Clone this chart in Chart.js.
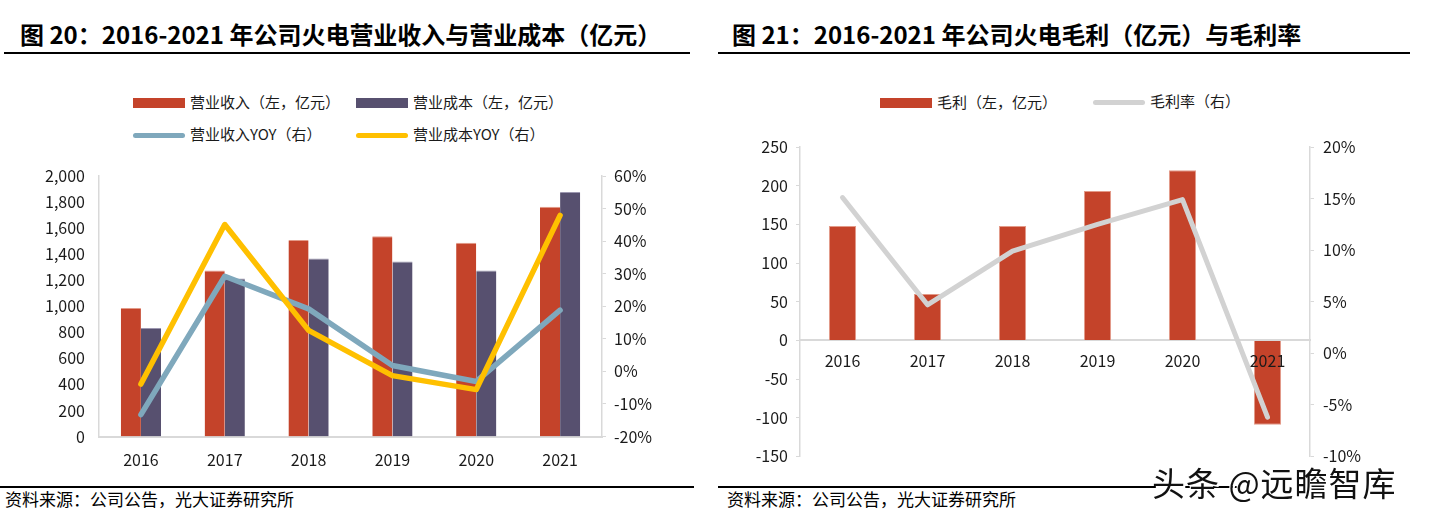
<!DOCTYPE html>
<html>
<head>
<meta charset="utf-8">
<script src="https://cdn.jsdelivr.net/npm/chart.js@4.4.0/dist/chart.umd.min.js"></script>
<style>
  html, body { margin:0; padding:0; background:#fff; }
  body { width:1432px; height:518px; position:relative; overflow:hidden; font-family:"Noto Sans CJK SC", sans-serif; }
  .title { position:absolute; font-size:24px; font-weight:700; color:#000; white-space:nowrap; line-height:1; }
  .rule { position:absolute; height:2px; background:#000; }
  .src { position:absolute; font-size:17px; color:#000; white-space:nowrap; line-height:1; }
  .lg { position:absolute; font-size:15px; color:#1a1a1a; white-space:nowrap; line-height:1; }
  .sw { position:absolute; }
  canvas { position:absolute; }
  .wm { position:absolute; font-size:33px; color:#111; white-space:nowrap; line-height:1; text-shadow:2px 2px 0 #fff, -1px -1px 0 #fff; letter-spacing:1px; }
</style>
</head>
<body>
<div class="title" style="left:20px; top:22px;">图 20：2016-2021 年公司火电营业收入与营业成本（亿元）</div>
<div class="rule" style="left:4px; top:52px; width:686px;"></div>
<div class="title" style="left:732px; top:22px;">图 21：2016-2021 年公司火电毛利（亿元）与毛利率</div>
<div class="rule" style="left:718px; top:52px; width:692px;"></div>

<div id="legend1"></div>
<div id="legend2"></div>

<canvas id="c1" width="700" height="330" style="left:0px; top:150px; width:700px; height:330px;"></canvas>
<canvas id="c2" width="722" height="355" style="left:710px; top:120px; width:722px; height:355px;"></canvas>

<div class="rule" style="left:0px; top:486px; width:694px;"></div>
<div class="src" style="left:5px; top:490px;">资料来源：公司公告，光大证券研究所</div>
<div class="rule" style="left:718px; top:486px; width:520px;"></div>
<div class="src" style="left:727px; top:490px;">资料来源：公司公告，光大证券研究所</div>
<div class="wm" style="left:1152px; top:466px;">头条 @远瞻智库</div>

<script>
// ---------- Data ----------
const years = ['2016', '2017', '2018', '2019', '2020', '2021'];

// Chart 1 (亿元 / %)
const revenue = [987, 1274, 1508, 1538, 1487, 1764];
const cost = [833, 1213, 1367, 1344, 1274, 1877];
const revenueYoy = [-13.3, 29.2, 19.2, 1.8, -3.1, 18.8];
const costYoy = [-3.9, 45.1, 12.6, -1.3, -5.6, 47.9];
const chart1Labels = ['营业收入（左，亿元）', '营业成本（左，亿元）', '营业收入YOY（右）', '营业成本YOY（右）'];

// Chart 2 (亿元 / %)
const grossProfit = [148, 60, 148, 193, 220, -109];
const grossMargin = [15.1, 4.7, 9.9, 12.5, 14.9, -6.2];
const chart2Labels = ['毛利（左，亿元）', '毛利率（右）'];

// ---------- Styles ----------
const RED = '#C4432A', PURPLE = '#57506F', BLUE = '#7FA8BC', YELLOW = '#FFC000', GRAY = '#D2D2D2';
const AXIS = '#D9D9D9', TICK = '#1a1a1a';
const tickFont = { family: '"Noto Sans CJK SC", sans-serif', size: 16 };

// ---------- HTML legends ----------
function addLegend(containerId, items) {
  const c = document.getElementById(containerId);
  items.forEach(it => {
    const sw = document.createElement('div');
    sw.className = 'sw';
    sw.style.left = it.x + 'px';
    sw.style.width = '52px';
    sw.style.background = it.color;
    if (it.type === 'box') { sw.style.top = (it.y - 5) + 'px'; sw.style.height = '10px'; }
    else { sw.style.top = (it.y - 2.5) + 'px'; sw.style.height = '5px'; sw.style.borderRadius = '3px'; }
    c.appendChild(sw);
    const t = document.createElement('div');
    t.className = 'lg';
    t.textContent = it.label;
    t.style.left = (it.x + 57) + 'px';
    t.style.top = (it.y - 9) + 'px';
    c.appendChild(t);
  });
}
addLegend('legend1', [
  { label: chart1Labels[0], color: RED, type: 'box', x: 133, y: 103 },
  { label: chart1Labels[1], color: PURPLE, type: 'box', x: 356, y: 103 },
  { label: chart1Labels[2], color: BLUE, type: 'line', x: 133, y: 135 },
  { label: chart1Labels[3], color: YELLOW, type: 'line', x: 356, y: 135 }
]);
addLegend('legend2', [
  { label: chart2Labels[0], color: RED, type: 'box', x: 880, y: 103 },
  { label: chart2Labels[1], color: GRAY, type: 'line', x: 1093, y: 102 }
]);

function fixWidth(w) { return function(scale) { scale.width = w; }; }
function fixHeight(h) { return function(scale) { scale.height = h; }; }

// ---------- Chart 1 ----------
new Chart(document.getElementById('c1'), {
  data: {
    labels: years,
    datasets: [
      { type: 'bar', label: chart1Labels[0], data: revenue, backgroundColor: RED, borderColor: '#E39A88', borderWidth: { top: 1, left: 0, right: 0, bottom: 0 }, yAxisID: 'y', order: 2, categoryPercentage: 0.48, barPercentage: 1.0 },
      { type: 'bar', label: chart1Labels[1], data: cost, backgroundColor: PURPLE, borderColor: '#9C97B0', borderWidth: { top: 1, left: 0, right: 0, bottom: 0 }, yAxisID: 'y', order: 2, categoryPercentage: 0.48, barPercentage: 1.0 },
      { type: 'line', label: chart1Labels[2], data: revenueYoy, borderColor: BLUE, borderWidth: 5.5, pointRadius: 0, tension: 0, yAxisID: 'y1', order: 1, borderCapStyle: 'round', borderJoinStyle: 'round' },
      { type: 'line', label: chart1Labels[3], data: costYoy, borderColor: YELLOW, borderWidth: 5.5, pointRadius: 0, tension: 0, yAxisID: 'y1', order: 0, borderCapStyle: 'round', borderJoinStyle: 'round' }
    ]
  },
  options: {
    responsive: false, animation: false,
    layout: { padding: { top: 26, left: 0, right: 0, bottom: 0 } },
    plugins: { legend: { display: false }, tooltip: { enabled: false } },
    scales: {
      x: {
        grid: { display: false, drawTicks: false },
        border: { display: true, color: AXIS, width: 2 },
        ticks: { font: tickFont, color: TICK, padding: 14 },
        afterFit: fixHeight(43.5)
      },
      y: {
        position: 'left', min: 0, max: 2000,
        grid: { display: false, drawTicks: false },
        border: { display: true, color: AXIS, width: 1.5 },
        ticks: { stepSize: 200, font: tickFont, color: TICK, padding: 14 },
        afterFit: fixWidth(99)
      },
      y1: {
        position: 'right', min: -20, max: 60,
        grid: { display: true, drawOnChartArea: false, drawTicks: true, tickLength: 4, color: AXIS },
        border: { display: true, color: AXIS, width: 1.5 },
        ticks: { stepSize: 10, font: tickFont, color: TICK, padding: 8, callback: v => v + '%' },
        afterFit: fixWidth(98)
      }
    }
  }
});

// ---------- Chart 2 ----------
new Chart(document.getElementById('c2'), {
  data: {
    labels: years,
    datasets: [
      { type: 'bar', label: chart2Labels[0], data: grossProfit, backgroundColor: RED, borderColor: '#E39A88', borderWidth: 1, borderSkipped: 'start', yAxisID: 'y', order: 2, categoryPercentage: 0.32, barPercentage: 1.0 },
      { type: 'line', label: chart2Labels[1], data: grossMargin, borderColor: GRAY, borderWidth: 5, pointRadius: 0, tension: 0, yAxisID: 'y1', order: 1, borderCapStyle: 'round', borderJoinStyle: 'round' }
    ]
  },
  options: {
    responsive: false, animation: false,
    layout: { padding: { top: 27, left: 0, right: 0, bottom: 9 } },
    plugins: { legend: { display: false }, tooltip: { enabled: false } },
    scales: {
      x: {
        position: { y: 0 },
        grid: { display: false, drawTicks: false },
        border: { display: true, color: AXIS, width: 2 },
        ticks: { font: tickFont, color: TICK, padding: 11, z: 1 }
      },
      y: {
        position: 'left', min: -150, max: 250,
        grid: { display: true, drawOnChartArea: false, drawTicks: true, tickLength: 4, color: AXIS },
        border: { display: true, color: AXIS, width: 1.5 },
        ticks: { stepSize: 50, font: tickFont, color: TICK, padding: 8 },
        afterFit: fixWidth(90)
      },
      y1: {
        position: 'right', min: -10, max: 20,
        grid: { display: true, drawOnChartArea: false, drawTicks: true, tickLength: 4, color: AXIS },
        border: { display: true, color: AXIS, width: 1.5 },
        ticks: { stepSize: 5, font: tickFont, color: TICK, padding: 9, callback: v => v + '%' },
        afterFit: fixWidth(122)
      }
    }
  }
});
</script>
</body>
</html>
